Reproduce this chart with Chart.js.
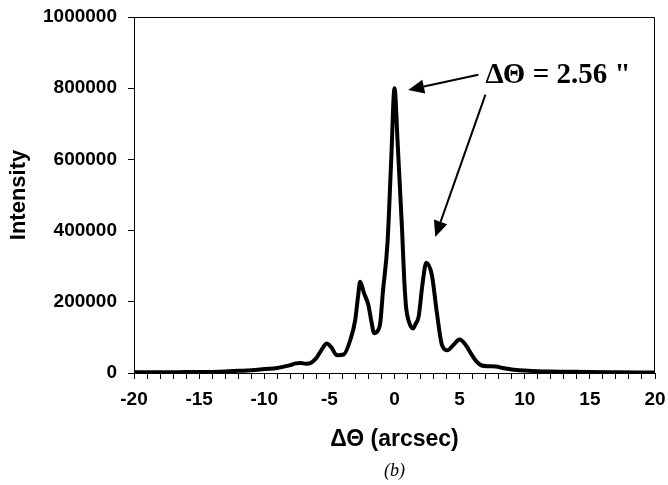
<!DOCTYPE html>
<html>
<head>
<meta charset="utf-8">
<script src="https://cdn.jsdelivr.net/npm/chart.js@4/dist/chart.umd.min.js"></script>
<style>
  html, body { margin: 0; padding: 0; background: #fff; }
  #wrap { width: 668px; height: 485px; }
</style>
</head>
<body>
<div id="wrap"><canvas id="rocking"></canvas></div>
<script>
// rocking curve
const deltaTheta = [-20, -18, -16, -14, -13, -12, -11, -10, -9, -8.5, -8, -7.6, -7.2, -6.8, -6.4, -6.0,
  -5.6, -5.2, -4.85, -4.43, -3.9, -3.4, -3.02, -2.8, -2.64, -2.35, -2.0, -1.8, -1.56, -1.3, -1.1, -0.89,
  -0.54, -0.25, 0, 0.25, 0.57, 0.75, 0.9, 1.1, 1.42, 1.62, 1.85, 2.15, 2.44, 2.87, 3.25, 3.65, 4.08,
  4.5, 5.0, 5.4, 5.95, 6.3, 6.7, 7.2, 7.8, 8.3, 9, 10, 11, 12, 13, 15, 17, 20];
const intensity = [2000, 2000, 2500, 3000, 4000, 6000, 8000, 11000, 14000, 18000, 22000, 27000, 28000, 26000, 29000, 42000,
  65000, 83000, 72000, 50000, 52000, 92000, 148000, 215000, 256000, 225000, 190000, 150000, 112000, 118000, 139000, 228000,
  364000, 600000, 800000, 640000, 411000, 260000, 181000, 145000, 125000, 138000, 158000, 250000, 310000, 275000, 170000, 78000, 64000,
  78000, 94000, 82000, 50000, 32000, 21000, 19000, 18000, 14000, 10000, 7000, 5000, 4000, 3500, 2500, 2000, 1500];

const yTicks = [0, 200000, 400000, 600000, 800000, 1000000];
const xLabelStep = 5;

// annotation, in data units: text anchor and two arrows (from -> to)
const noteText = 'ΔΘ = 2.56 "';
const noteAt = { x: 6.98, y: 837000 };
const arrows = [
  { from: { x: 6.44, y: 838000 }, to: { x: 1.05, y: 795000 } },
  { from: { x: 6.98, y: 782000 }, to: { x: 3.13, y: 382000 } }
];

const tickFont = { family: 'Liberation Sans, Arial, sans-serif', size: 19, weight: 'bold' };

function arrow(ctx, x1, y1, x2, y2){
  const ang = Math.atan2(y2 - y1, x2 - x1);
  const head = 16, half = 7;
  const bx = x2 - head * Math.cos(ang), by = y2 - head * Math.sin(ang);
  ctx.beginPath();
  ctx.moveTo(x1, y1);
  ctx.lineTo(bx, by);
  ctx.stroke();
  ctx.beginPath();
  ctx.moveTo(x2, y2);
  ctx.lineTo(bx + half * Math.sin(ang), by - half * Math.cos(ang));
  ctx.lineTo(bx - half * Math.sin(ang), by + half * Math.cos(ang));
  ctx.closePath();
  ctx.fill();
}

const extras = {
  id: 'extras',
  afterDraw(chart){
    const { ctx, chartArea: a, scales: { x, y } } = chart;
    ctx.save();
    // frame around plot
    ctx.strokeStyle = '#000';
    ctx.lineWidth = 1;
    ctx.beginPath();
    ctx.moveTo(a.left, a.top + 0.5);
    ctx.lineTo(a.right - 0.5, a.top + 0.5);
    ctx.lineTo(a.right - 0.5, a.bottom);
    ctx.stroke();

    // note + arrows
    ctx.fillStyle = '#000';
    ctx.font = 'bold 29px "Liberation Serif", "Times New Roman", serif';
    ctx.textBaseline = 'middle';
    ctx.textAlign = 'left';
    ctx.fillText(noteText, x.getPixelForValue(noteAt.x), y.getPixelForValue(noteAt.y));
    ctx.lineWidth = 2;
    arrows.forEach(ar => arrow(ctx,
      x.getPixelForValue(ar.from.x), y.getPixelForValue(ar.from.y),
      x.getPixelForValue(ar.to.x), y.getPixelForValue(ar.to.y)));

    // panel label
    ctx.font = 'italic 18px "Liberation Serif", "Times New Roman", serif';
    ctx.textAlign = 'center';
    ctx.fillText('(b)', (a.left + a.right) / 2, 471);
    ctx.restore();
  }
};

new Chart(document.getElementById('rocking'), {
  type: 'line',
  data: {
    datasets: [{
      data: deltaTheta.map((v, i) => ({ x: v, y: intensity[i] })),
      borderColor: '#000',
      borderWidth: 4,
      pointRadius: 0,
      cubicInterpolationMode: 'monotone',
      fill: false
    }]
  },
  options: {
    responsive: true,
    maintainAspectRatio: false,
    animation: false,
    layout: { padding: { top: 17, right: 13, left: 0, bottom: 0 } },
    plugins: { legend: { display: false }, tooltip: { enabled: false } },
    scales: {
      x: {
        type: 'linear',
        min: -20,
        max: 20,
        afterFit: s => { s.height = 112; s.paddingLeft = 0; s.paddingRight = 0; },
        grid: { drawOnChartArea: false, tickLength: 6, color: '#000' },
        border: { color: '#000', width: 1 },
        ticks: {
          stepSize: 1,
          autoSkip: false,
          maxRotation: 0,
          padding: 9,
          color: '#000',
          font: tickFont,
          callback: v => (v % xLabelStep === 0 ? String(v) : '')
        },
        title: {
          display: true,
          text: 'ΔΘ (arcsec)',
          color: '#000',
          font: { family: 'Liberation Sans, Arial, sans-serif', size: 23, weight: 'bold' },
          padding: { top: 0, bottom: 32 }
        }
      },
      y: {
        min: 0,
        max: 1000000,
        afterFit: s => { s.width = 134; s.paddingTop = 0; s.paddingBottom = 0; },
        afterBuildTicks: s => { s.ticks = yTicks.map(v => ({ value: v })); },
        grid: { drawOnChartArea: false, tickLength: 6, color: '#000' },
        border: { color: '#000', width: 1 },
        ticks: {
          padding: 11,
          color: '#000',
          font: tickFont,
          callback: v => String(v)
        },
        title: {
          display: true,
          text: 'Intensity',
          color: '#000',
          font: { family: 'Liberation Sans, Arial, sans-serif', size: 22, weight: 'bold' },
          padding: { top: 6, bottom: 0 }
        }
      }
    }
  },
  plugins: [extras]
});
</script>
</body>
</html>
